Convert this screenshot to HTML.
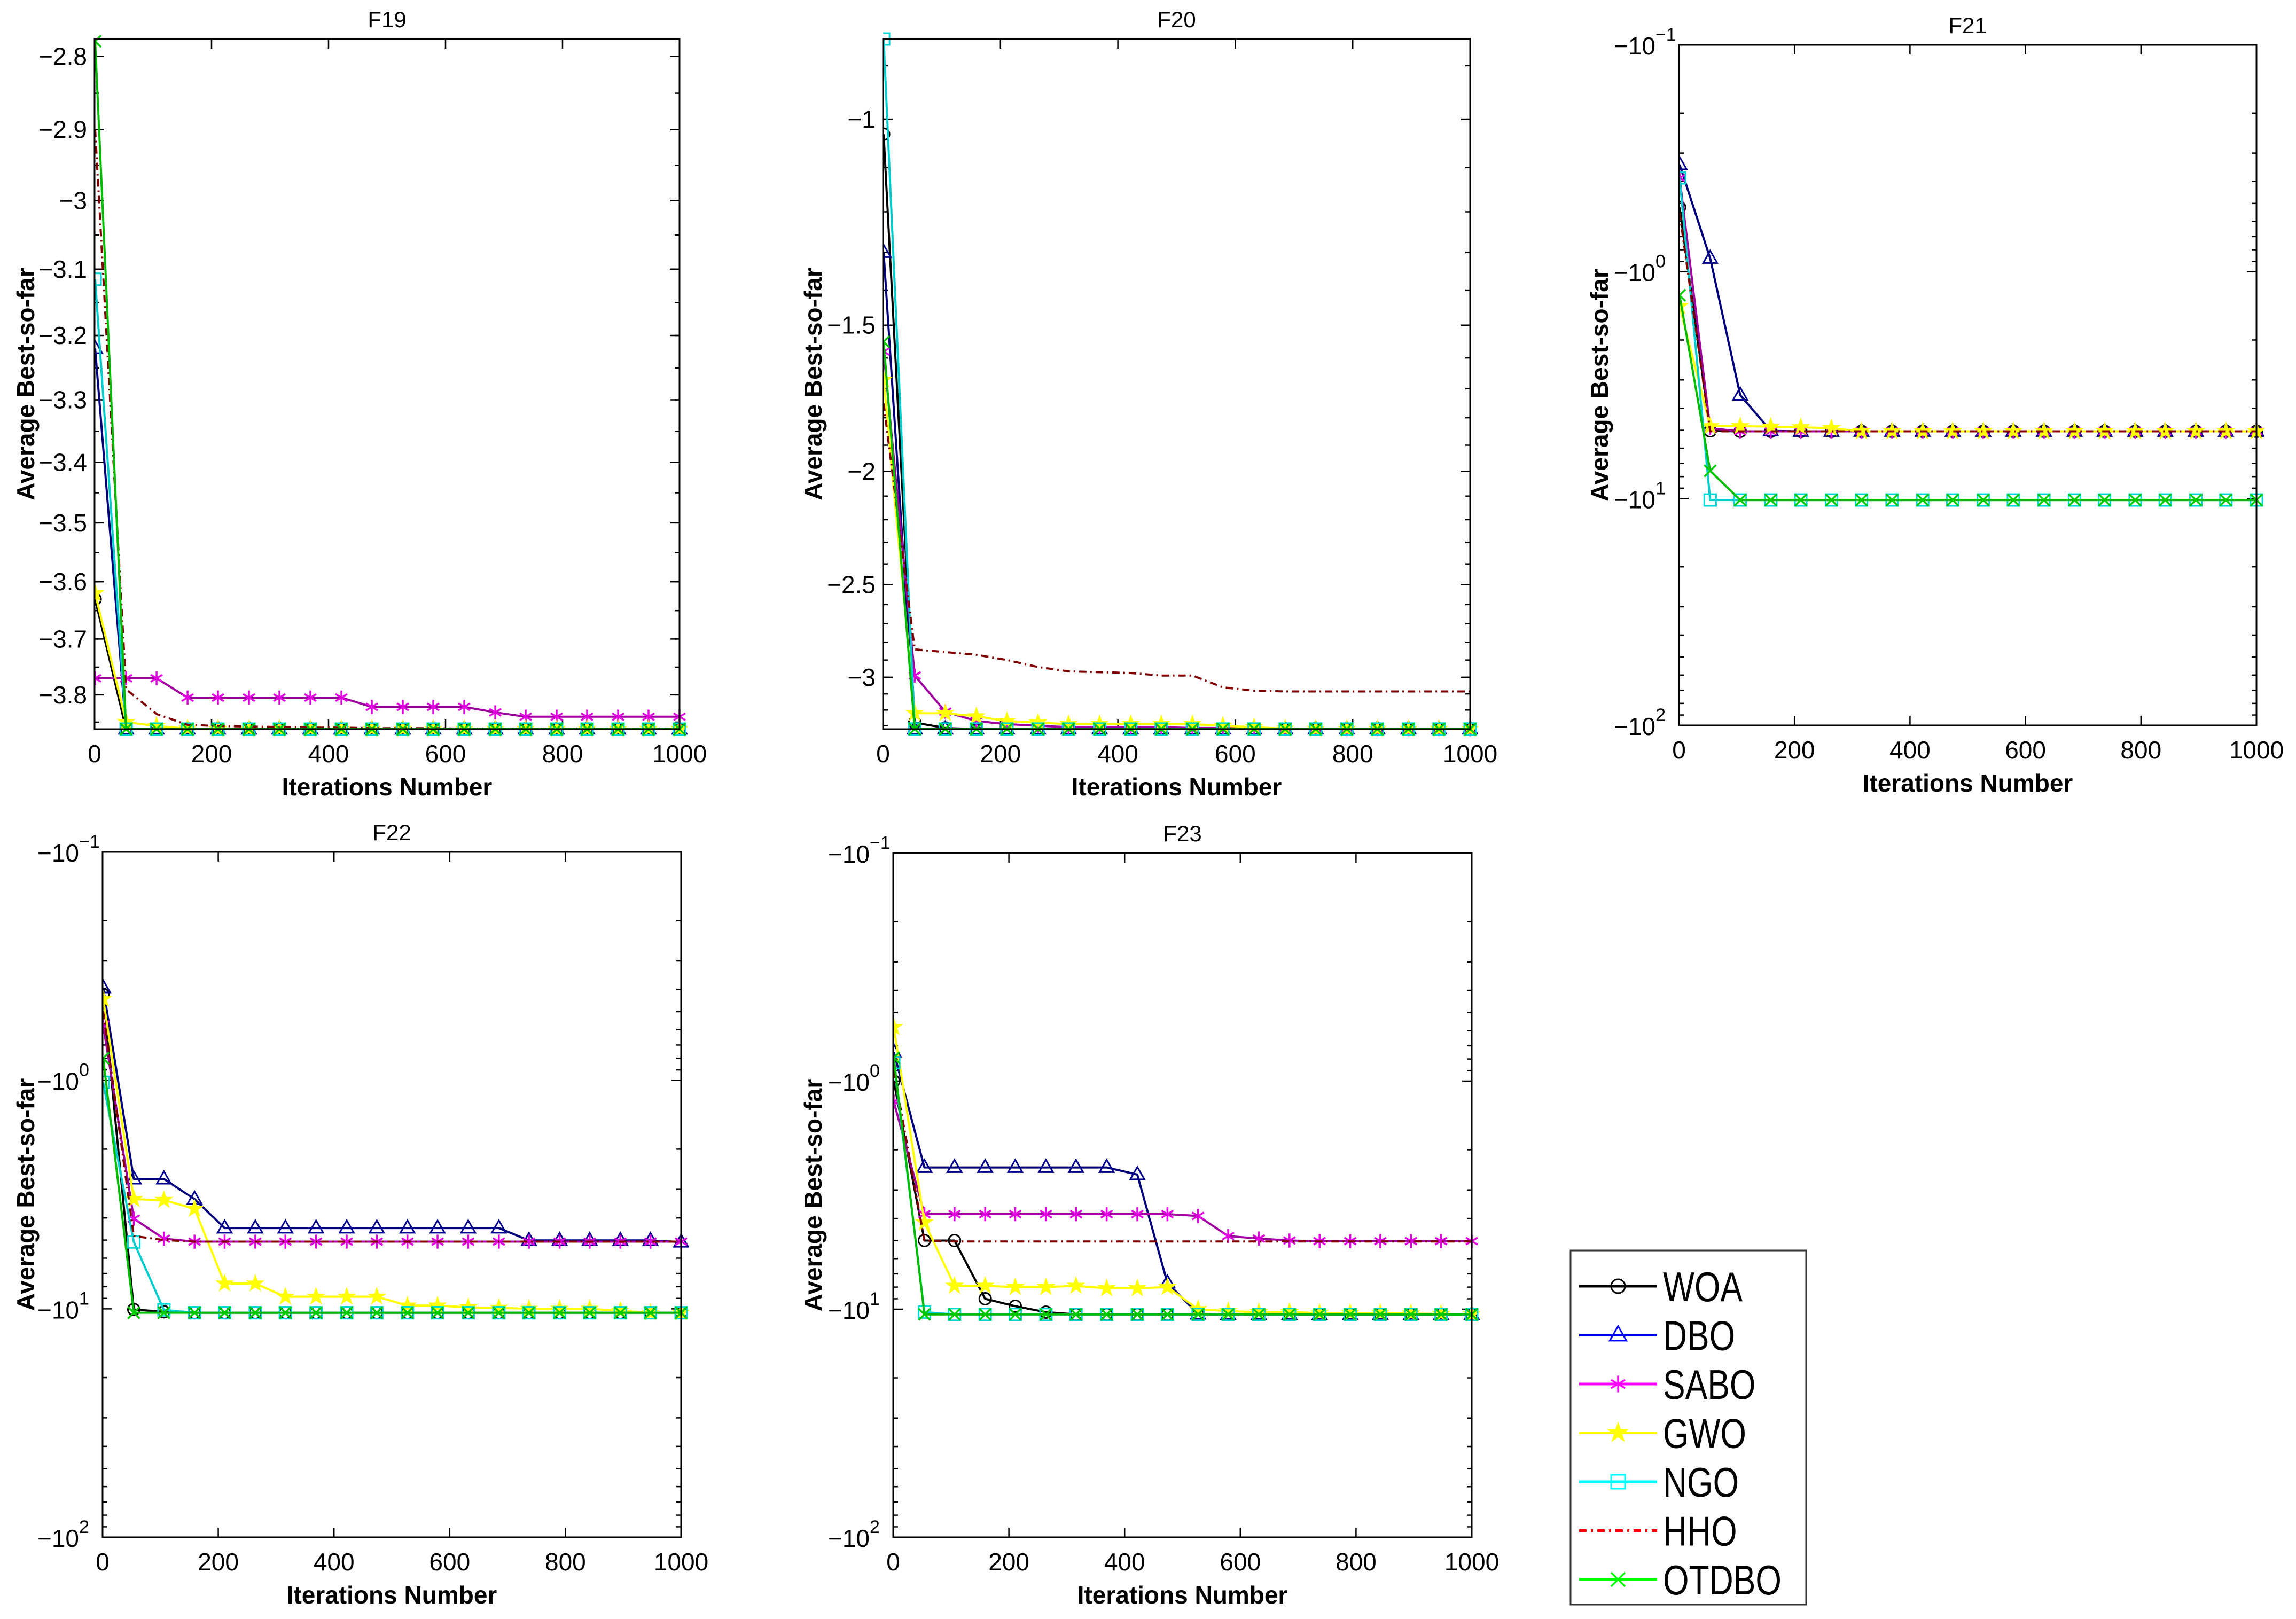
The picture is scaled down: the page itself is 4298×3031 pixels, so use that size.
<!DOCTYPE html>
<html><head><meta charset="utf-8"><style>
html,body{margin:0;padding:0;background:#fff;}
svg{display:block;}
text{font-family:"Liberation Sans",sans-serif;fill:#000;}
</style></head><body>
<svg id="fig" width="4298" height="3031" viewBox="0 0 4298 3031" xmlns="http://www.w3.org/2000/svg"></svg>
<script>
const iters = [1,54,106,159,211,264,316,369,422,474,527,579,632,685,737,790,842,895,947,1000];
const seriesNames = ["WOA","DBO","SABO","GWO","NGO","HHO","OTDBO"];
const xTicks = [0,200,400,600,800,1000];

const f19_WOA = [-3.63,-3.8628,-3.8628,-3.8628,-3.8628,-3.8628,-3.8628,-3.8628,-3.8628,-3.8628,-3.8628,-3.8628,-3.8628,-3.8628,-3.8628,-3.8628,-3.8628,-3.8628,-3.8628,-3.8628];
const f19_DBO = [-3.22,-3.8628,-3.8628,-3.8628,-3.8628,-3.8628,-3.8628,-3.8628,-3.8628,-3.8628,-3.8628,-3.8628,-3.8628,-3.8628,-3.8628,-3.8628,-3.8628,-3.8628,-3.8628,-3.8628];
const f19_SABO = [-3.77,-3.77,-3.77,-3.805,-3.805,-3.805,-3.805,-3.805,-3.805,-3.822,-3.822,-3.822,-3.822,-3.832,-3.84,-3.84,-3.84,-3.84,-3.84,-3.84];
const f19_GWO = [-3.62,-3.85,-3.857,-3.862,-3.8628,-3.8628,-3.8628,-3.8628,-3.8628,-3.8628,-3.8628,-3.8628,-3.8628,-3.8628,-3.8628,-3.8628,-3.8628,-3.8628,-3.8628,-3.8628];
const f19_NGO = [-3.115,-3.8628,-3.8628,-3.8628,-3.8628,-3.8628,-3.8628,-3.8628,-3.8628,-3.8628,-3.8628,-3.8628,-3.8628,-3.8628,-3.8628,-3.8628,-3.8628,-3.8628,-3.8628,-3.8628];
const f19_HHO = [-2.9,-3.79,-3.835,-3.855,-3.857,-3.858,-3.859,-3.86,-3.86,-3.861,-3.861,-3.861,-3.862,-3.862,-3.862,-3.862,-3.862,-3.862,-3.862,-3.862];
const f19_OTDBO = [-2.78,-3.8628,-3.8628,-3.8628,-3.8628,-3.8628,-3.8628,-3.8628,-3.8628,-3.8628,-3.8628,-3.8628,-3.8628,-3.8628,-3.8628,-3.8628,-3.8628,-3.8628,-3.8628,-3.8628];
const f19_yTicks = [-2.8,-2.9,-3,-3.1,-3.2,-3.3,-3.4,-3.5,-3.6,-3.7,-3.8];
const f19_yTickLabels = ["−2.8","−2.9","−3","−3.1","−3.2","−3.3","−3.4","−3.5","−3.6","−3.7","−3.8"];

const f20_WOA = [-1.03,-3.28,-3.315,-3.322,-3.322,-3.322,-3.322,-3.322,-3.322,-3.322,-3.322,-3.322,-3.322,-3.322,-3.322,-3.322,-3.322,-3.322,-3.322,-3.322];
const f20_DBO = [-1.30,-3.322,-3.322,-3.322,-3.322,-3.322,-3.322,-3.322,-3.322,-3.322,-3.322,-3.322,-3.322,-3.322,-3.322,-3.322,-3.322,-3.322,-3.322,-3.322];
const f20_SABO = [-1.58,-2.99,-3.21,-3.27,-3.29,-3.30,-3.31,-3.31,-3.31,-3.31,-3.315,-3.315,-3.318,-3.32,-3.32,-3.322,-3.322,-3.322,-3.322,-3.322];
const f20_GWO = [-1.67,-3.22,-3.22,-3.24,-3.27,-3.28,-3.29,-3.29,-3.29,-3.29,-3.29,-3.30,-3.31,-3.32,-3.322,-3.322,-3.322,-3.322,-3.322,-3.322];
const f20_NGO = [-0.854,-3.322,-3.322,-3.322,-3.322,-3.322,-3.322,-3.322,-3.322,-3.322,-3.322,-3.322,-3.322,-3.322,-3.322,-3.322,-3.322,-3.322,-3.322,-3.322];
const f20_HHO = [-1.75,-2.84,-2.855,-2.87,-2.90,-2.94,-2.965,-2.97,-2.975,-2.99,-2.99,-3.06,-3.08,-3.085,-3.085,-3.085,-3.085,-3.085,-3.085,-3.085];
const f20_OTDBO = [-1.55,-3.322,-3.322,-3.322,-3.322,-3.322,-3.322,-3.322,-3.322,-3.322,-3.322,-3.322,-3.322,-3.322,-3.322,-3.322,-3.322,-3.322,-3.322,-3.322];
const f20_yTicks = [-1,-1.5,-2,-2.5,-3];
const f20_yTickLabels = ["−1","−1.5","−2","−2.5","−3"];

const f21_WOA = [-0.52,-5.03,-5.055,-5.055,-5.055,-5.055,-5.055,-5.055,-5.055,-5.055,-5.055,-5.055,-5.055,-5.055,-5.055,-5.055,-5.055,-5.055,-5.055,-5.055];
const f21_DBO = [-0.337,-0.873,-3.5,-5.03,-5.055,-5.055,-5.055,-5.055,-5.055,-5.055,-5.055,-5.055,-5.055,-5.055,-5.055,-5.055,-5.055,-5.055,-5.055,-5.055];
const f21_SABO = [-0.386,-4.9,-5.055,-5.055,-5.055,-5.055,-5.055,-5.055,-5.055,-5.055,-5.055,-5.055,-5.055,-5.055,-5.055,-5.055,-5.055,-5.055,-5.055,-5.055];
const f21_GWO = [-1.42,-4.8,-4.8,-4.82,-4.85,-4.9,-5.055,-5.055,-5.055,-5.055,-5.055,-5.055,-5.055,-5.055,-5.055,-5.055,-5.055,-5.055,-5.055,-5.055];
const f21_NGO = [-0.386,-10.15,-10.15,-10.15,-10.15,-10.15,-10.15,-10.15,-10.15,-10.15,-10.15,-10.15,-10.15,-10.15,-10.15,-10.15,-10.15,-10.15,-10.15,-10.15];
const f21_HHO = [-0.55,-5.055,-5.055,-5.055,-5.055,-5.055,-5.055,-5.055,-5.055,-5.055,-5.055,-5.055,-5.055,-5.055,-5.055,-5.055,-5.055,-5.055,-5.055,-5.055];
const f21_OTDBO = [-1.27,-7.55,-10.15,-10.15,-10.15,-10.15,-10.15,-10.15,-10.15,-10.15,-10.15,-10.15,-10.15,-10.15,-10.15,-10.15,-10.15,-10.15,-10.15,-10.15];

const f22_WOA = [-0.42,-10.07,-10.3,-10.4,-10.4,-10.4,-10.4,-10.4,-10.4,-10.4,-10.4,-10.4,-10.4,-10.4,-10.4,-10.4,-10.4,-10.4,-10.4,-10.4];
const f22_DBO = [-0.393,-2.7,-2.7,-3.31,-4.43,-4.43,-4.43,-4.43,-4.43,-4.43,-4.43,-4.43,-4.43,-4.43,-5.02,-5.02,-5.02,-5.02,-5.02,-5.1];
const f22_SABO = [-0.57,-4.03,-4.93,-5.08,-5.08,-5.08,-5.08,-5.08,-5.08,-5.08,-5.08,-5.08,-5.08,-5.08,-5.08,-5.08,-5.08,-5.08,-5.08,-5.08];
const f22_GWO = [-0.44,-3.31,-3.34,-3.65,-7.75,-7.75,-8.85,-8.85,-8.85,-8.85,-9.68,-9.68,-9.85,-9.9,-10.0,-10.0,-10.0,-10.2,-10.4,-10.4];
const f22_NGO = [-1.02,-5.1,-10.1,-10.4,-10.4,-10.4,-10.4,-10.4,-10.4,-10.4,-10.4,-10.4,-10.4,-10.4,-10.4,-10.4,-10.4,-10.4,-10.4,-10.4];
const f22_HHO = [-0.5,-4.8,-5.0,-5.08,-5.08,-5.08,-5.08,-5.08,-5.08,-5.08,-5.08,-5.08,-5.08,-5.08,-5.08,-5.08,-5.08,-5.08,-5.08,-5.08];
const f22_OTDBO = [-0.8,-10.4,-10.4,-10.4,-10.4,-10.4,-10.4,-10.4,-10.4,-10.4,-10.4,-10.4,-10.4,-10.4,-10.4,-10.4,-10.4,-10.4,-10.4,-10.4];

const f23_WOA = [-1.0,-5.0,-5.0,-9.0,-9.7,-10.3,-10.54,-10.54,-10.54,-10.54,-10.54,-10.54,-10.54,-10.54,-10.54,-10.54,-10.54,-10.54,-10.54,-10.54];
const f23_DBO = [-0.745,-2.39,-2.39,-2.39,-2.39,-2.39,-2.39,-2.39,-2.57,-7.67,-10.5,-10.54,-10.54,-10.54,-10.54,-10.54,-10.54,-10.54,-10.54,-10.54];
const f23_SABO = [-1.23,-3.83,-3.83,-3.83,-3.83,-3.83,-3.83,-3.83,-3.83,-3.83,-3.9,-4.78,-4.9,-5.0,-5.03,-5.03,-5.03,-5.03,-5.03,-5.03];
const f23_GWO = [-0.58,-4.17,-7.9,-7.9,-8.0,-8.0,-7.9,-8.1,-8.1,-8.0,-10.0,-10.2,-10.3,-10.3,-10.4,-10.4,-10.4,-10.45,-10.5,-10.5];
const f23_NGO = [-0.83,-10.3,-10.54,-10.54,-10.54,-10.54,-10.54,-10.54,-10.54,-10.54,-10.54,-10.54,-10.54,-10.54,-10.54,-10.54,-10.54,-10.54,-10.54,-10.54];
const f23_HHO = [-0.9,-5.0,-5.05,-5.05,-5.05,-5.05,-5.05,-5.05,-5.05,-5.05,-5.05,-5.05,-5.05,-5.05,-5.05,-5.05,-5.05,-5.05,-5.05,-5.05];
const f23_OTDBO = [-0.79,-10.54,-10.54,-10.54,-10.54,-10.54,-10.54,-10.54,-10.54,-10.54,-10.54,-10.54,-10.54,-10.54,-10.54,-10.54,-10.54,-10.54,-10.54,-10.54];

const decadeTicks = [-0.1,-1,-10,-100];
const decadeExps = ["−1","0","1","2"];

const NS = "http://www.w3.org/2000/svg";
const svg = document.getElementById("fig");
function mk(tag, attrs, parent){
  const e = document.createElementNS(NS, tag);
  for (const k in attrs) e.setAttribute(k, attrs[k]);
  (parent||svg).appendChild(e);
  return e;
}
const style = {
  WOA:{line:"#000000",mk:"#000000",marker:"circle",dash:null},
  DBO:{line:"#00007a",mk:"#00008a",marker:"triangle",dash:null},
  SABO:{line:"#a000a0",mk:"#e000e0",marker:"asterisk",dash:null},
  GWO:{line:"#ffff00",mk:"#ffff00",marker:"star",dash:null},
  NGO:{line:"#00cccc",mk:"#00d8d8",marker:"square",dash:null},
  HHO:{line:"#800000",mk:"#800000",marker:null,dash:"14,7,3,7"},
  OTDBO:{line:"#00bb00",mk:"#00cc00",marker:"x",dash:null}
};
const legendStyle = {WOA:"#000000",DBO:"#0000ff",SABO:"#ff00ff",GWO:"#ffff00",NGO:"#00ffff",HHO:"#ff0000",OTDBO:"#00ff00"};

function drawMarker(g, type, x, y, color, s){
  s = s||11;
  if(type==="circle") mk("circle",{cx:x,cy:y,r:s,fill:"none",stroke:color,"stroke-width":3},g);
  else if(type==="square") mk("rect",{x:x-s,y:y-s,width:2*s,height:2*s,fill:"none",stroke:color,"stroke-width":3},g);
  else if(type==="triangle") mk("polygon",{points:`${x},${y-s*1.3} ${x-s*1.2},${y+s*0.8} ${x+s*1.2},${y+s*0.8}`,fill:"none",stroke:color,"stroke-width":3},g);
  else if(type==="x") mk("path",{d:`M${x-s} ${y-s}L${x+s} ${y+s}M${x-s} ${y+s}L${x+s} ${y-s}`,stroke:color,"stroke-width":3.5,fill:"none"},g);
  else if(type==="asterisk") mk("path",{d:`M${x} ${y-s*1.2}L${x} ${y+s*1.2}M${x-s} ${y-s*0.6}L${x+s} ${y+s*0.6}M${x-s} ${y+s*0.6}L${x+s} ${y-s*0.6}`,stroke:color,"stroke-width":3.5,fill:"none"},g);
  else if(type==="star"){
    let p=[];
    for(let i=0;i<10;i++){const a=-Math.PI/2+i*Math.PI/5; const r=i%2?s*0.55:s*1.4; p.push((x+r*Math.cos(a)).toFixed(1)+","+(y+r*Math.sin(a)).toFixed(1));}
    mk("polygon",{points:p.join(" "),fill:color,stroke:color,"stroke-width":2},g);
  }
}

function panel(cfg){
  const g = mk("g",{});
  
  
  const {L,R,T,B} = cfg;
  const lt = Math.log10(Math.abs(cfg.top)), lb = Math.log10(Math.abs(cfg.bot));
  const X = v => L + (v-0)/(1000-0)*(R-L);
  const Y = v => T + (Math.log10(Math.abs(v))-lt)/(lb-lt)*(B-T);
  const clip = "clip-"+cfg.name;
  const cp = mk("clipPath",{id:clip},g);
  mk("rect",{x:L,y:T-15,width:R-L+15,height:B-T+30},cp);
  const tg = mk("g",{stroke:"#000","stroke-width":2.5},g);
  
  
  xTicks.forEach(v=>{
    const x=X(v);
    mk("line",{x1:x,y1:B,x2:x,y2:B-18},tg);
    mk("line",{x1:x,y1:T,x2:x,y2:T+18},tg);
    const t=mk("text",{x:x,y:B+62,"font-size":46,"text-anchor":"middle"},g);
    t.textContent=v;
    
    
  });
  (cfg.minor||[]).forEach(v=>{
    const y=Y(v); if(y<T-1||y>B+1) return;
    mk("line",{x1:L,y1:y,x2:L+9,y2:y},tg);
    mk("line",{x1:R,y1:y,x2:R-9,y2:y},tg);
  });
  cfg.yTicks.forEach((v,i)=>{
    const y=Y(v);
    mk("line",{x1:L,y1:y,x2:L+18,y2:y},tg);
    mk("line",{x1:R,y1:y,x2:R-18,y2:y},tg);
    if(cfg.log){
      const t=mk("text",{x:L-44,y:y+18,"font-size":46,"text-anchor":"end"},g);
      t.textContent="−10";
      
      
      const e=mk("text",{x:L-44,y:y-8,"font-size":34,"text-anchor":"start"},g);
      e.textContent=cfg.yLabels[i];
      
      
    } else {
      const t=mk("text",{x:L-14,y:y+16,"font-size":46,"text-anchor":"end"},g);
      t.textContent=cfg.yLabels[i];
      
      
    }
  });
  const sg = mk("g",{"clip-path":`url(#${clip})`},g);
  seriesNames.forEach(n=>{
    const data = cfg.series[n];
    const st = style[n];
    const pts = data.map((v,i)=>X(iters[i]).toFixed(1)+","+Y(v).toFixed(1)).join(" ");
    const pl = mk("polyline",{points:pts,fill:"none",stroke:st.line,"stroke-width":4,"stroke-linejoin":"round"},sg);
    if(st.dash) pl.setAttribute("stroke-dasharray",st.dash);
    
    
    if(st.marker){
      const mg = mk("g",{},sg);
      
      
      data.forEach((v,i)=>drawMarker(mg, st.marker, X(iters[i]), Y(v), st.mk));
    }
  });
  const fr = mk("rect",{x:L,y:T,width:R-L,height:B-T,fill:"none",stroke:"#000","stroke-width":3},g);
  
  
  const ti = mk("text",{x:(L+R)/2,y:T-22,"font-size":42,"text-anchor":"middle"},g);
  ti.textContent=cfg.title;
  
  
  const xl = mk("text",{x:(L+R)/2,y:B+124,"font-size":46,"font-weight":"bold","text-anchor":"middle"},g);
  xl.textContent="Iterations Number";
  
  
  const yc=(T+B)/2;
  const yl = mk("text",{x:cfg.ylx,y:yc,"font-size":46,"font-weight":"bold","text-anchor":"middle",transform:`rotate(-90 ${cfg.ylx} ${yc})`},g);
  yl.textContent="Average Best-so-far";
  
  
}

function logMinor(){const a=[];[0.1,1,10].forEach(d=>{for(let k=2;k<=9;k++)a.push(-d*k);});return a;}
function linMinor(a,b,s){const r=[];for(let v=a;v>=b-1e-9;v-=s)r.push(+v.toFixed(3));return r;}

panel({name:"f19",title:"F19",L:177,R:1272,T:73,B:1365,top:-2.777,bot:-3.8628,ylx:64,
  yTicks:f19_yTicks,yLabels:f19_yTickLabels,minor:linMinor(-2.75,-3.85,0.05),
  series:{WOA:f19_WOA,DBO:f19_DBO,SABO:f19_SABO,GWO:f19_GWO,NGO:f19_NGO,HHO:f19_HHO,OTDBO:f19_OTDBO}});
panel({name:"f20",title:"F20",L:1653,R:2752,T:73,B:1365,top:-0.854,bot:-3.3224,ylx:1538,
  yTicks:f20_yTicks,yLabels:f20_yTickLabels,minor:linMinor(-0.9,-3.3,0.1),
  series:{WOA:f20_WOA,DBO:f20_DBO,SABO:f20_SABO,GWO:f20_GWO,NGO:f20_NGO,HHO:f20_HHO,OTDBO:f20_OTDBO}});
panel({name:"f21",title:"F21",L:3143,R:4224,T:84,B:1358,top:-0.1,bot:-100,ylx:3010,log:true,
  yTicks:decadeTicks,yLabels:decadeExps,minor:logMinor(),
  series:{WOA:f21_WOA,DBO:f21_DBO,SABO:f21_SABO,GWO:f21_GWO,NGO:f21_NGO,HHO:f21_HHO,OTDBO:f21_OTDBO}});
panel({name:"f22",title:"F22",L:192,R:1275,T:1595,B:2878,top:-0.1,bot:-100,ylx:64,log:true,
  yTicks:decadeTicks,yLabels:decadeExps,minor:logMinor(),
  series:{WOA:f22_WOA,DBO:f22_DBO,SABO:f22_SABO,GWO:f22_GWO,NGO:f22_NGO,HHO:f22_HHO,OTDBO:f22_OTDBO}});
panel({name:"f23",title:"F23",L:1672,R:2755,T:1597,B:2878,top:-0.1,bot:-100,ylx:1538,log:true,
  yTicks:decadeTicks,yLabels:decadeExps,minor:logMinor(),
  series:{WOA:f23_WOA,DBO:f23_DBO,SABO:f23_SABO,GWO:f23_GWO,NGO:f23_NGO,HHO:f23_HHO,OTDBO:f23_OTDBO}});

const lg = mk("g",{});


const lbox = mk("rect",{x:2940,y:2341,width:441,height:663,fill:"#fff",stroke:"#333","stroke-width":3},lg);


seriesNames.forEach((n,i)=>{
  const y = 2408 + i*91.5;
  const e = mk("g",{},lg);
  
  
  const ln = mk("line",{x1:2956,y1:y,x2:3102,y2:y,stroke:legendStyle[n],"stroke-width":5},e);
  if(style[n].dash) ln.setAttribute("stroke-dasharray","14,8,4,8");
  if(style[n].marker) drawMarker(e, style[n].marker, 3029, y, legendStyle[n], 13);
  const t = mk("text",{x:0,y:0,"font-size":78,transform:`translate(3113 ${y+28}) scale(0.8 1)`},e);
  t.textContent = n;
});
</script>
</body></html>
